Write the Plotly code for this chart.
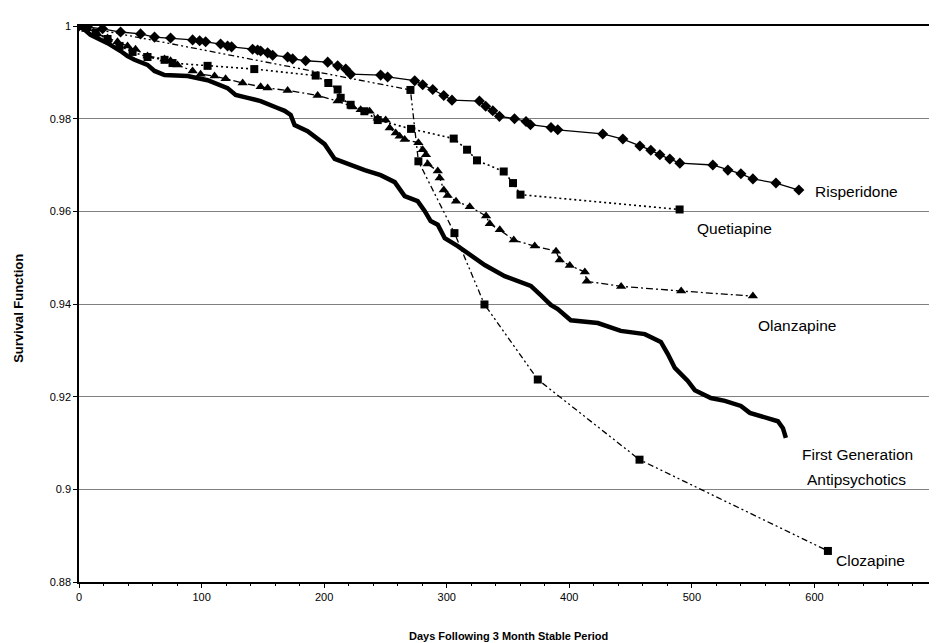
import plotly.graph_objects as go

# ---------------- data ----------------
risperidone_days = [0, 6.9, 19.2, 33.9, 50.2, 61.6, 74.7, 92.7, 98.4, 103.3,
                    115.5, 121.2, 124.5, 141.6, 145.7, 148.2, 153.9, 158.0, 170.2, 174.3,
                    184.9, 202.9, 211.0, 217.6, 221.6, 246.1, 251.8, 273.9, 280.4, 288.6,
                    297.6, 304.3, 326.7, 331.8, 337.6, 343.0, 355.3, 364.7, 368.3, 385.1,
                    390.6, 427.3, 443.7, 457.6, 466.5, 473.9, 482.0, 490.2, 517.1, 529.4,
                    540.0, 549.8, 568.6, 587.3]
risperidone_surv = [1.0, .9998, .9994, .9987, .9983, .9976, .9974, .9970, .9968, .9966,
                    .9961, .9957, .9955, .9950, .9948, .9946, .9942, .9937, .9933, .9929,
                    .9925, .9922, .9914, .9907, .9896, .9894, .9890, .9882, .9873, .9863,
                    .9850, .9840, .9838, .9827, .9817, .9805, .9800, .9794, .9787, .9781,
                    .9776, .9767, .9756, .9741, .9732, .9722, .9713, .9704, .9700, .9689,
                    .9681, .9670, .9661, .9646]

quetiapine_days = [0, 5.3, 13.5, 23.3, 33.1, 43.7, 55.9, 69.8, 76.3, 104.9,
                   143.0, 193.1, 203.4, 211.0, 213.5, 221.6, 232.8, 243.7, 270.9, 305.7,
                   316.6, 324.7, 346.5, 354.1, 360.2, 490.0]
quetiapine_surv = [1.0, .9996, .9985, .9972, .9957, .9944, .9933, .9927, .9920, .9914,
                   .9907, .9893, .9877, .9863, .9845, .9830, .9816, .9797, .9778, .9757,
                   .9733, .9710, .9686, .9661, .9636, .9604]

olanzapine_days = [0, 6.9, 15.1, 23.3, 31.4, 39.6, 46.1, 55.9, 69.8, 74.7,
                   80.4, 92.7, 99.2, 110.6, 119.6, 133.5, 148.2, 153.9, 170.2, 194.7,
                   211.0, 223.3, 229.8, 237.1, 243.7, 250.2, 253.5, 258.4, 261.6, 265.7,
                   276.9, 280.4, 283.1, 284.5, 292.7, 294.3, 297.6, 300.8, 307.6, 318.8,
                   332.1, 335.1, 343.3, 354.7, 371.8, 389.2, 392.2, 400.4, 412.7, 414.3,
                   442.3, 491.3, 549.8]
olanzapine_surv = [1.0, .9994, .9983, .9974, .9966, .9957, .9950, .9935, .9929, .9925,
                   .9916, .9903, .9896, .9892, .9886, .9877, .9869, .9866, .9861, .9850,
                   .9838, .9825, .9819, .9816, .9801, .9797, .9780, .9769, .9762, .9755,
                   .9748, .9733, .9722, .9702, .9687, .9672, .9646, .9634, .9622, .9610,
                   .9590, .9573, .9560, .9538, .9525, .9514, .9495, .9483, .9469, .9449,
                   .9438, .9428, .9417]

clozapine_days = [0, 270.4, 276.9, 306.3, 330.8, 374.3, 457.3, 611.0]
clozapine_surv = [1.0, .9862, .9708, .9553, .9399, .9237, .9064, .8867]

fga_days = [0, 3.7, 9.4, 16.7, 23.3, 33.9, 39.6, 45.3, 55.9, 61.6,
            69.8, 88.6, 104.9, 121.2, 127.8, 137.6, 148.2, 162.0, 167.8, 172.7,
            175.9, 186.5, 194.7, 200.4, 208.6, 219.2, 227.3, 233.1, 246.1, 257.6,
            265.7, 276.3, 282.0, 286.9, 292.7, 298.4, 309.0, 319.6, 331.0, 347.3,
            368.6, 376.7, 384.9, 390.6, 401.2, 423.3, 442.0, 461.6, 474.7, 480.4,
            486.1, 496.7, 502.4, 515.5, 526.9, 540.0, 547.3, 570.2, 574.3, 576.7]
fga_surv = [1.0, .9994, .9981, .9972, .9963, .9946, .9935, .9927, .9916, .9903,
            .9894, .9892, .9883, .9866, .9851, .9845, .9838, .9823, .9817, .9808,
            .9786, .9773, .9758, .9745, .9713, .9702, .9694, .9689, .9678, .9663,
            .9633, .9622, .9601, .9579, .9571, .9542, .9525, .9506, .9484, .9460,
            .9439, .9419, .9398, .9389, .9365, .9359, .9342, .9335, .9318, .9292,
            .9262, .9234, .9214, .9197, .9191, .9180, .9165, .9147, .9132, .9111]

x_ticks = [0, 100, 200, 300, 400, 500, 600, 700]
y_ticks = [0.88, 0.9, 0.92, 0.94, 0.96, 0.98, 1.0]
y_tick_labels = ["0.88", "0.9", "0.92", "0.94", "0.96", "0.98", "1"]

x_title = "Days Following 3 Month Stable Period"
y_title = "Survival Function"

# series labels placed next to their curves: (text, day, survival)
series_labels = [
    ("Risperidone", 634, 0.9642),
    ("Quetiapine", 535, 0.9562),
    ("Olanzapine", 586, 0.9354),
    ("First Generation", 635, 0.9076),
    ("Antipsychotics", 634, 0.9022),
    ("Clozapine", 646, 0.8846),
]

FONT = "Liberation Sans, Arial, sans-serif"

fig = go.Figure()

fig.add_trace(go.Scatter(
    x=fga_days, y=fga_surv, mode="lines", name="First Generation Antipsychotics",
    line=dict(color="black", width=4.5)))

fig.add_trace(go.Scatter(
    x=clozapine_days, y=clozapine_surv, mode="lines+markers", name="Clozapine",
    line=dict(color="black", width=1.3, dash="6px,3px,2px,3px,2px,3px"),
    marker=dict(symbol="square", size=8, color="black")))

fig.add_trace(go.Scatter(
    x=olanzapine_days, y=olanzapine_surv, mode="lines+markers", name="Olanzapine",
    line=dict(color="black", width=1.3, dash="7px,3px,2px,3px"),
    marker=dict(symbol="triangle-up", size=9, color="black")))

fig.add_trace(go.Scatter(
    x=quetiapine_days, y=quetiapine_surv, mode="lines+markers", name="Quetiapine",
    line=dict(color="black", width=1.6, dash="2px,3px"),
    marker=dict(symbol="square", size=8, color="black")))

fig.add_trace(go.Scatter(
    x=risperidone_days, y=risperidone_surv, mode="lines+markers", name="Risperidone",
    line=dict(color="black", width=1.3),
    marker=dict(symbol="diamond", size=8.5, color="black")))

annotations = []
for text, xd, yd in series_labels:
    annotations.append(dict(x=xd, y=yd, xref="x", yref="y", text=text,
                            showarrow=False, xanchor="center", yanchor="middle",
                            font=dict(family=FONT, size=15.5, color="black")))

annotations.append(dict(x=0.5, y=-0.097, xref="paper", yref="paper", text=x_title,
                        showarrow=False, xanchor="center", yanchor="middle",
                        font=dict(family=FONT, size=11, color="black", weight="bold")))
annotations.append(dict(x=-0.07, y=0.493, xref="paper", yref="paper", text=y_title,
                        showarrow=False, xanchor="center", yanchor="middle", textangle=-90,
                        font=dict(family=FONT, size=13, color="black", weight="bold")))

fig.update_layout(
    width=937, height=643,
    margin=dict(l=71, r=8, t=18, b=69),
    paper_bgcolor="white", plot_bgcolor="white",
    showlegend=False,
    annotations=annotations,
    shapes=[dict(type="line", xref="paper", yref="paper", x0=1, x1=1, y0=0, y1=1,
                 line=dict(color="#666666", width=1, dash="dot"))],
)

fig.update_xaxes(
    range=[0, 700], tickvals=x_ticks, ticks="outside", ticklen=4, tickcolor="black",
    showgrid=False, zeroline=False, showline=True, linecolor="black", linewidth=1.5,
    mirror=True,
    minor=dict(dtick=20, ticks="outside", ticklen=2, tickcolor="black"),
    tickfont=dict(family=FONT, size=11, color="black"))

fig.update_yaxes(
    range=[0.88, 1.0], tickvals=y_ticks, ticktext=y_tick_labels, ticks="outside",
    ticklen=4, tickcolor="black", showgrid=True, gridcolor="#808080", gridwidth=1,
    zeroline=False, showline=True, linecolor="black", linewidth=1.5,
    tickfont=dict(family=FONT, size=11, color="black"))

fig.write_html("out.html")
